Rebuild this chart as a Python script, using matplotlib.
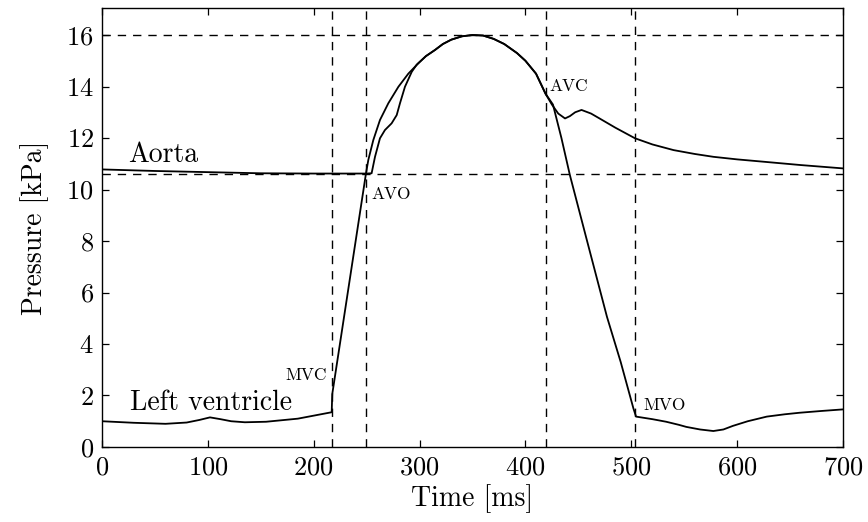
import matplotlib
matplotlib.use("Agg")
import matplotlib.pyplot as plt

# Computer Modern look (cmr10 ships with matplotlib)
plt.rcParams['font.family'] = 'cmr10'
plt.rcParams['mathtext.fontset'] = 'cm'
plt.rcParams['axes.formatter.use_mathtext'] = True

# left ventricle pressure
lv_t = [0, 30, 60, 80, 92, 102, 112, 122, 135, 155, 185, 217, 217.5, 249.4, 251.6, 256.3,
        262.6, 270.5, 280, 289.4, 298.8, 306, 314.6, 322, 330, 340, 350, 360, 370, 380, 392,
        400, 410, 419, 426, 434, 442, 458, 477, 490, 502, 504.5, 520, 533, 545, 552, 565,
        577.5, 587, 596, 610, 628, 645, 659, 680, 700]
lv_p = [1.0, 0.94, 0.9, 0.95, 1.05, 1.15, 1.08, 1.0, 0.96, 0.98, 1.1, 1.35, 2.05, 10.63, 11.15, 11.92,
        12.7, 13.35, 13.99, 14.5, 14.9, 15.18, 15.42, 15.65, 15.82, 15.95, 16.0, 15.98, 15.85, 15.65, 15.3,
        15.0, 14.5, 13.72, 13.3, 12.0, 10.56, 8.04, 5.06, 3.3, 1.5, 1.18, 1.08, 0.98, 0.86, 0.78, 0.68,
        0.62, 0.68, 0.82, 1.0, 1.18, 1.27, 1.33, 1.4, 1.46]

# aortic pressure
ao_t = [0, 50, 105, 150, 200, 249.4, 254.7, 257.9, 262.6, 267.3, 273.6, 278.4, 281.5,
        286.2, 292.6, 297.3, 306, 314.6, 322, 330, 340, 350, 360, 370, 380, 392, 400, 410,
        419, 425, 431, 437.4, 442, 447, 453, 462, 470, 485, 503.5, 520, 540, 560, 577.5,
        600, 624.7, 660, 700]
ao_p = [10.78, 10.72, 10.67, 10.63, 10.62, 10.62, 10.63, 11.27, 11.99, 12.31, 12.57, 12.89, 13.35,
        13.99, 14.57, 14.85, 15.18, 15.42, 15.65, 15.82, 15.95, 16.0, 15.98, 15.85, 15.65, 15.3, 15.0, 14.5,
        13.72, 13.3, 12.95, 12.76, 12.85, 13.0, 13.09, 12.95, 12.76, 12.4, 11.99, 11.75, 11.53, 11.38, 11.27,
        11.17, 11.08, 10.95, 10.82]

# valve events [ms] and reference pressures [kPa]
event_t = [217.5, 249, 419, 503.5]
ref_p = [16.0, 10.6]

# event labels: (text, t, p, alignment)
event_labels = [("MVC", 212.5, 2.8, "right"),
                ("AVO", 255, 9.8, "left"),
                ("AVC", 423, 14.0, "left"),
                ("MVO", 511, 1.6, "left")]

fig = plt.figure(figsize=(8.68, 5.22), dpi=100)
ax = fig.add_axes([0.1175, 0.1437, 0.8537, 0.841])

for t in event_t:
    ax.axvline(t, color='black', lw=1.0, ls=(0, (6, 5)))
for p in ref_p:
    ax.axhline(p, color='black', lw=1.0, ls=(0, (6, 5)))

ax.plot(ao_t, ao_p, color='black', lw=1.3)
ax.plot(lv_t, lv_p, color='black', lw=1.3)

ax.text(24.6, 11.35, "Aorta", fontsize=20, va='center', ha='left')
ax.text(26.5, 1.72, "Left ventricle", fontsize=20, va='center', ha='left')
for txt, t, p, ha in event_labels:
    ax.text(t, p, txt, fontsize=12.5, va='center', ha=ha)

ax.set_xlim(0, 700)
ax.set_ylim(0, 17.05)
ax.set_xticks(range(0, 701, 100))
ax.set_yticks(range(0, 17, 2))
ax.tick_params(direction='in', top=True, right=True, length=5, width=0.9,
               labelsize=19, pad=6)
for s in ax.spines.values():
    s.set_linewidth(1.0)

ax.set_xlabel("Time [ms]", fontsize=20, labelpad=4)
ax.set_ylabel("Pressure [kPa]", fontsize=20, labelpad=12)

fig.savefig("out.png", dpi=100)
